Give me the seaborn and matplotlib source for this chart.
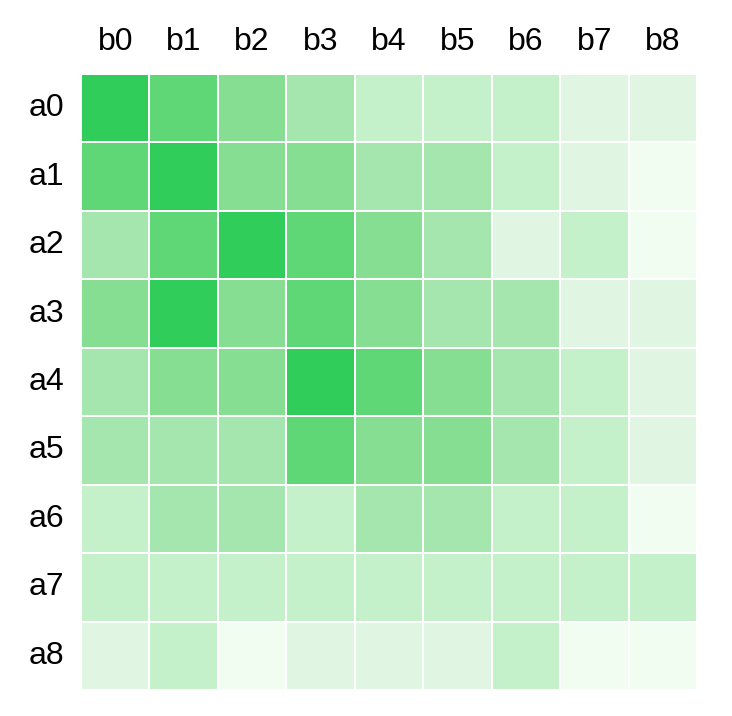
import numpy as np
import pandas as pd
import seaborn as sns
import matplotlib.pyplot as plt
from matplotlib.colors import ListedColormap

# Data: intensity level (0 = lightest, 6 = darkest) of each cell
rows = ['a0', 'a1', 'a2', 'a3', 'a4', 'a5', 'a6', 'a7', 'a8']
cols = ['b0', 'b1', 'b2', 'b3', 'b4', 'b5', 'b6', 'b7', 'b8']
a0 = [6, 5, 4, 3, 2, 2, 2, 1, 1]
a1 = [5, 6, 4, 4, 3, 3, 2, 1, 0]
a2 = [3, 5, 6, 5, 4, 3, 1, 2, 0]
a3 = [4, 6, 4, 5, 4, 3, 3, 1, 1]
a4 = [3, 4, 4, 6, 5, 4, 3, 2, 1]
a5 = [3, 3, 3, 5, 4, 4, 3, 2, 1]
a6 = [2, 3, 3, 2, 3, 3, 2, 2, 0]
a7 = [2, 2, 2, 2, 2, 2, 2, 2, 2]
a8 = [1, 2, 0, 1, 1, 1, 2, 0, 0]

palette = ['#f0fdf0', '#e1f5e3', '#c4f0ca', '#a5e6ae', '#86de93', '#5fd777', '#31cd5a']

df = pd.DataFrame([a0, a1, a2, a3, a4, a5, a6, a7, a8], index=rows, columns=cols)

sns.set_style('white')
plt.rcParams['font.family'] = ['Liberation Sans Narrow', 'Liberation Sans', 'DejaVu Sans']

fig = plt.figure(figsize=(7.32, 7.16), dpi=100)
ax = fig.add_axes([81 / 732, 26 / 716, 616 / 732, 616 / 716])

sns.heatmap(df, ax=ax, cmap=ListedColormap(palette), vmin=-0.5, vmax=6.5,
            cbar=False, linewidths=1.2, linecolor='white')

ax.xaxis.tick_top()
ax.tick_params(axis='both', length=0, labelsize=23, labelcolor='black')
ax.tick_params(axis='x', pad=12)
ax.tick_params(axis='y', pad=12)
plt.setp(ax.get_yticklabels(), rotation=0)
plt.setp(ax.get_xticklabels(), rotation=0)
ax.set_xlabel('')
ax.set_ylabel('')

fig.savefig('out.png', dpi=100)
